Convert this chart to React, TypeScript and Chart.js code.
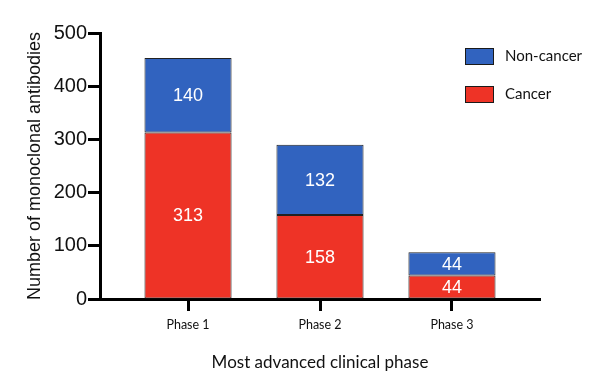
import React, { useEffect, useRef } from "react";
import { Chart, registerables } from "chart.js";

Chart.register(...registerables);

const categories = ["Phase 1", "Phase 2", "Phase 3"];
const cancer = [313, 158, 44];
const nonCancer = [140, 132, 44];
const yTicks = [0, 100, 200, 300, 400, 500];

const BLUE = "#3163BF";
const RED = "#EE3326";

const labelPlugin = {
  id: "segLabels",
  afterDatasetsDraw(chart: any) {
    const ctx = chart.ctx;
    ctx.save();
    ctx.fillStyle = "#ffffff";
    ctx.font = "18px 'Liberation Sans', Arial, sans-serif";
    ctx.textAlign = "center";
    ctx.textBaseline = "middle";
    chart.data.datasets.forEach((ds: any, di: number) => {
      const meta = chart.getDatasetMeta(di);
      meta.data.forEach((el: any, i: number) => {
        const { x, y, base } = el.getProps(["x", "y", "base"], true);
        ctx.fillText(String(ds.data[i].y), x, (y + base) / 2 + 1);
      });
    });
    ctx.restore();
  },
};

const legendPlugin = {
  id: "customLegend",
  afterDraw(chart: any) {
    const ctx = chart.ctx;
    ctx.save();
    const items = [...chart.data.datasets].reverse();
    items.forEach((ds: any, i: number) => {
      const y = 48 + i * 38;
      ctx.fillStyle = ds.backgroundColor;
      ctx.fillRect(465, y, 29, 17);
      ctx.strokeStyle = "#1a1a1a";
      ctx.lineWidth = 1;
      ctx.strokeRect(465.5, y + 0.5, 28, 16);
      ctx.fillStyle = "#111";
      ctx.font = "15px Lato, 'Open Sans', sans-serif";
      ctx.textAlign = "left";
      ctx.textBaseline = "middle";
      ctx.fillText(ds.label, 505, y + 8);
    });
    ctx.restore();
  },
};

export default function App() {
  const ref = useRef<HTMLCanvasElement>(null);
  useEffect(() => {
    if (!ref.current) return;
    const toPts = (arr: number[]) => arr.map((v, i) => ({ x: i + 1, y: v }));
    const chart = new Chart(ref.current, {
      type: "bar",
      data: {
        datasets: [
          {
            label: "Cancer",
            data: toPts(cancer) as any,
            backgroundColor: RED,
            borderColor: "#222222",
            borderWidth: 1,
            borderSkipped: false,
            barPercentage: 0.66,
            categoryPercentage: 1,
          },
          {
            label: "Non-cancer",
            data: toPts(nonCancer) as any,
            backgroundColor: BLUE,
            borderColor: "#222222",
            borderWidth: 1,
            borderSkipped: false,
            barPercentage: 0.66,
            categoryPercentage: 1,
          },
        ],
      },
      options: {
        animation: false,
        responsive: false,
        layout: { padding: { top: 33, right: 66, left: 0, bottom: 0 } },
        plugins: {
          legend: { display: false },
          tooltip: { enabled: false },
        },
        scales: {
          x: {
            type: "linear",
            stacked: true,
            offset: false,
            min: 1 - 0.667,
            max: 3 + 0.667,
            afterBuildTicks: (s: any) => {
              s.ticks = categories.map((_, i) => ({ value: i + 1 }));
            },
            afterFit: (s: any) => {
              s.height = 86;
            },
            grid: {
              display: true,
              offset: false,
              drawOnChartArea: false,
              drawTicks: true,
              tickLength: 12,
              tickWidth: 3,
              tickColor: "#000",
            },
            border: { display: true, color: "#000", width: 3 },
            ticks: {
              color: "#111",
              font: { family: "Lato, 'Open Sans', sans-serif", size: 12.5 },
              padding: 6,
              maxRotation: 0,
              callback: (v: any) => categories[Math.round(v) - 1] ?? "",
            },
            title: {
              display: true,
              text: "Most advanced clinical phase",
              color: "#111",
              font: { family: "Lato, 'Open Sans', sans-serif", size: 17 },
              padding: { top: 0, bottom: 12 },
            },
          },
          y: {
            stacked: true,
            min: 0,
            max: 500,
            afterBuildTicks: (s: any) => {
              s.ticks = yTicks.map((v) => ({ value: v }));
            },
            afterFit: (s: any) => {
              s.width = 100;
            },
            grid: {
              display: true,
              drawOnChartArea: false,
              drawTicks: true,
              tickLength: 12,
              tickWidth: 3,
              tickColor: "#000",
            },
            border: { display: true, color: "#000", width: 3 },
            ticks: {
              color: "#111",
              font: { family: "'Liberation Sans', Arial, sans-serif", size: 20 },
              padding: 1,
            },
            title: {
              display: true,
              text: "Number of monoclonal antibodies",
              color: "#111",
              font: { family: "'Liberation Sans', Arial, sans-serif", size: 18 },
              padding: { top: 24, bottom: 0 },
            },
          },
        },
      },
      plugins: [labelPlugin, legendPlugin],
    });
    return () => chart.destroy();
  }, []);
  return (
    <div style={{ position: "fixed", left: 0, top: 0, width: 606, height: 385, background: "#fff" }}>
      <canvas ref={ref} width={606} height={385} />
    </div>
  );
}
